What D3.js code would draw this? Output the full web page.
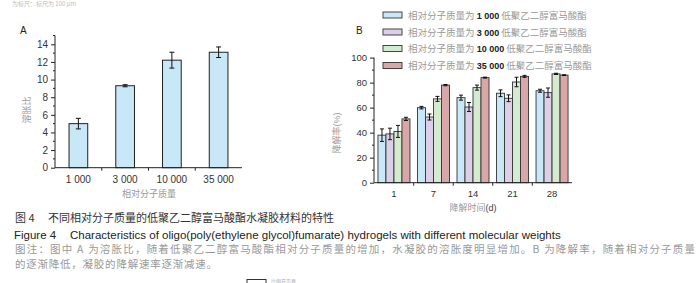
<!DOCTYPE html>
<html><head><meta charset="utf-8">
<script src="https://cdn.jsdelivr.net/npm/d3@7/dist/d3.min.js"></script>
<style>body{margin:0;background:#fff;}svg{display:block;}</style>
</head><body>
<script>
// Panel A data
const catsA = ["1 000", "3 000", "10 000", "35 000"];
const valsA = [5.0, 9.3, 12.2, 13.1];
const errA = [0.6, 0.12, 0.9, 0.6];
const ticksA = [0, 2, 4, 6, 8, 10, 12, 14];

// Panel B data
const days = ["1", "7", "14", "21", "28"];
const seriesB = ["1 000", "3 000", "10 000", "35 000"];
const valsB = [
  [38, 60, 68, 71.5, 73.5],   // 1 000
  [39, 52.5, 60.5, 67.5, 72], // 3 000
  [41, 67, 76, 80.5, 87],     // 10 000
  [51, 78, 84, 85, 86]        // 35 000
];
const errB = [
  [5, 1, 2, 2.7, 1.2],
  [4.6, 2.4, 3.6, 2.7, 3.7],
  [4.8, 2, 2, 3.8, 0.5],
  [1.3, 0.5, 0.4, 0.8, 0.3]
];
const ticksB = [0, 20, 40, 60, 80, 100];
const colorsB = ["#c8e7f7", "#dcd0e8", "#d4ebd0", "#d9a7a7"];

const svg = d3.select("body").append("svg").attr("width", 700).attr("height", 283)
  .style("font-family", "'Liberation Sans', Arial, sans-serif");

const cjk = "'Noto Sans CJK SC', sans-serif";

// top line (mostly off the page in the reference)
svg.append("text").attr("x", 12).attr("y", 6).attr("font-size", 6).attr("fill", "#bbb")
  .style("font-family", cjk).text("为标尺：标尺为 100 μm");

// ---------- Panel A ----------
const xA = d3.scaleBand().domain(catsA).range([55, 242]).paddingInner(0.6).paddingOuter(0.3);
const yA = d3.scaleLinear().domain([0, 15]).range([167.7, 35.5]);
const gA = svg.append("g");
gA.append("text").attr("x", 20).attr("y", 34).attr("font-size", 10).attr("fill", "#222").text("A");

gA.selectAll("rect.bar").data(valsA).join("rect")
  .attr("x", (d, i) => xA(catsA[i])).attr("y", d => yA(d))
  .attr("width", xA.bandwidth()).attr("height", d => yA(0) - yA(d))
  .attr("fill", "#c8e7f7").attr("stroke", "#222").attr("stroke-width", 1);

const ebA = gA.selectAll("g.eb").data(valsA).join("g");
ebA.each(function(d, i) {
  const cx = xA(catsA[i]) + xA.bandwidth() / 2;
  const g = d3.select(this);
  g.append("line").attr("x1", cx).attr("x2", cx).attr("y1", yA(d - errA[i])).attr("y2", yA(d + errA[i])).attr("stroke", "#111");
  [d - errA[i], d + errA[i]].forEach(v => g.append("line").attr("x1", cx - 2.5).attr("x2", cx + 2.5).attr("y1", yA(v)).attr("y2", yA(v)).attr("stroke", "#111"));
});

const axA = gA.append("g").attr("transform", "translate(55,0)")
  .call(d3.axisLeft(yA).tickValues(ticksA).tickSize(4).tickPadding(3).tickFormat(d3.format("d")));
axA.select(".domain").remove();
axA.selectAll("text").attr("font-size", 10).attr("fill", "#333").style("font-family", "'Liberation Sans', Arial, sans-serif");
axA.selectAll("line").attr("stroke", "#222");
gA.append("line").attr("x1", 55).attr("x2", 55).attr("y1", yA(0)).attr("y2", yA(15)).attr("stroke", "#222");
gA.selectAll("line.minA").data([1, 3, 5, 7, 9, 11, 13, 15]).join("line")
  .attr("x1", 53).attr("x2", 55).attr("y1", d => yA(d)).attr("y2", d => yA(d)).attr("stroke", "#222");
gA.append("line").attr("x1", 55).attr("x2", 242).attr("y1", yA(0)).attr("y2", yA(0)).attr("stroke", "#222");
gA.selectAll("line.bt").data(catsA.slice(1)).join("line")
  .attr("x1", d => xA(d) - xA.step() * 0.3).attr("x2", d => xA(d) - xA.step() * 0.3)
  .attr("y1", yA(0)).attr("y2", yA(0) + 3).attr("stroke", "#222");
gA.selectAll("text.xl").data(catsA).join("text")
  .attr("x", d => xA(d) + xA.bandwidth() / 2).attr("y", 183).attr("text-anchor", "middle")
  .attr("font-size", 10).attr("fill", "#333").text(d => d);
gA.append("text").attr("x", 149).attr("y", 197).attr("text-anchor", "middle").attr("font-size", 9)
  .attr("fill", "#999").style("font-family", cjk).text("相对分子质量");
gA.append("text").attr("transform", "translate(30,110) rotate(-90)").attr("text-anchor", "middle")
  .attr("font-size", 9).attr("fill", "#999").style("font-family", cjk).text("溶胀比");

// ---------- Panel B ----------
const x0 = d3.scaleBand().domain(days).range([374, 572]).paddingInner(0.19).paddingOuter(0.1);
const x1 = d3.scaleBand().domain(seriesB).range([0, x0.bandwidth()]);
const yB = d3.scaleLinear().domain([0, 100]).range([182.7, 57.6]);
const gB = svg.append("g");
gB.append("text").attr("x", 356).attr("y", 34).attr("font-size", 10).attr("fill", "#222").text("B");

seriesB.forEach((s, si) => {
  gB.selectAll("rect.s" + si).data(valsB[si]).join("rect")
    .attr("x", (d, i) => x0(days[i]) + x1(s)).attr("y", d => yB(d))
    .attr("width", x1.bandwidth()).attr("height", d => yB(0) - yB(d))
    .attr("fill", colorsB[si]).attr("stroke", "#333").attr("stroke-width", 0.9);
});
seriesB.forEach((s, si) => {
  valsB[si].forEach((d, i) => {
    const cx = x0(days[i]) + x1(s) + x1.bandwidth() / 2;
    const e = errB[si][i];
    gB.append("line").attr("x1", cx).attr("x2", cx).attr("y1", yB(d - e)).attr("y2", yB(d + e)).attr("stroke", "#111");
    [d - e, d + e].forEach(v => gB.append("line").attr("x1", cx - 2).attr("x2", cx + 2).attr("y1", yB(v)).attr("y2", yB(v)).attr("stroke", "#111"));
  });
});

const axB = gB.append("g").attr("transform", "translate(374,0)")
  .call(d3.axisLeft(yB).tickValues(ticksB).tickSize(4).tickPadding(3));
axB.select(".domain").remove();
axB.selectAll("text").attr("font-size", 9.5).attr("fill", "#333").style("font-family", "'Liberation Sans', Arial, sans-serif");
axB.selectAll("line").attr("stroke", "#222");
gB.append("line").attr("x1", 374).attr("x2", 374).attr("y1", yB(0)).attr("y2", yB(100)).attr("stroke", "#222");
gB.selectAll("line.minB").data([10, 30, 50, 70, 90]).join("line")
  .attr("x1", 372).attr("x2", 374).attr("y1", d => yB(d)).attr("y2", d => yB(d)).attr("stroke", "#222");
gB.append("line").attr("x1", 374).attr("x2", 572).attr("y1", yB(0)).attr("y2", yB(0)).attr("stroke", "#222");
gB.selectAll("line.bt").data(days.slice(1)).join("line")
  .attr("x1", d => x0(d) - x0.step() * 0.095).attr("x2", d => x0(d) - x0.step() * 0.095)
  .attr("y1", yB(0)).attr("y2", yB(0) + 3).attr("stroke", "#222");
gB.selectAll("text.xl").data(days).join("text")
  .attr("x", d => x0(d) + x0.bandwidth() / 2).attr("y", 197).attr("text-anchor", "middle")
  .attr("font-size", 9.5).attr("fill", "#333").text(d => d);
const xt = gB.append("text").attr("x", 473).attr("y", 211).attr("text-anchor", "middle").attr("font-size", 9).attr("fill", "#999");
xt.append("tspan").style("font-family", cjk).text("降解时间");
xt.append("tspan").attr("fill", "#444").text("(d)");
const yt = gB.append("text").attr("transform", "translate(340,133) rotate(-90)").attr("text-anchor", "middle").attr("font-size", 9).attr("fill", "#999");
yt.append("tspan").style("font-family", cjk).text("降解率");
yt.append("tspan").text("(%)");

// legend
const legY = [15, 32, 48.5, 65.5];
seriesB.forEach((s, si) => {
  gB.append("rect").attr("x", 383).attr("y", legY[si] - 3).attr("width", 19).attr("height", 6)
    .attr("fill", colorsB[si]).attr("stroke", "#333").attr("stroke-width", 0.9);
  const t = gB.append("text").attr("x", 408).attr("y", legY[si] + 3.5).attr("font-size", 9.5).attr("fill", "#999");
  t.append("tspan").style("font-family", cjk).text("相对分子质量为 ");
  t.append("tspan").attr("fill", "#222").attr("font-weight", "bold").attr("font-size", 9).text(s);
  t.append("tspan").style("font-family", cjk).text(" 低聚乙二醇富马酸酯");
});

// ---------- Caption ----------
const c1 = svg.append("text").attr("x", 15).attr("y", 222).attr("font-size", 11).attr("fill", "#333").style("font-family", cjk);
c1.append("tspan").text("图 4");
c1.append("tspan").attr("x", 48).text("不同相对分子质量的低聚乙二醇富马酸酯水凝胶材料的特性");
const c2 = svg.append("text").attr("x", 14).attr("y", 239).attr("font-size", 11.5).attr("fill", "#222");
c2.append("tspan").text("Figure 4");
c2.append("tspan").attr("x", 70).text("Characteristics of oligo(poly(ethylene glycol)fumarate) hydrogels with different molecular weights");
svg.append("text").attr("x", 15).attr("y", 253).attr("font-size", 10.5).attr("fill", "#999").style("font-family", cjk)
  .attr("textLength", 680).attr("lengthAdjust", "spacing")
  .text("图注：图中 A 为溶胀比，随着低聚乙二醇富马酸酯相对分子质量的增加，水凝胶的溶胀度明显增加。B 为降解率，随着相对分子质量");
svg.append("text").attr("x", 15).attr("y", 268).attr("font-size", 10.5).attr("fill", "#999").style("font-family", cjk)
  .attr("textLength", 202).attr("lengthAdjust", "spacing")
  .text("的逐渐降低，凝胶的降解速率逐渐减速。");
// bottom legend row (cut by the page edge in the reference)
svg.append("rect").attr("x", 247).attr("y", 279.5).attr("width", 19).attr("height", 8).attr("fill", "none").attr("stroke", "#333");
svg.append("text").attr("x", 271).attr("y", 282.5).attr("font-size", 5).attr("fill", "#aaa").style("font-family", cjk).text("比例尺示意");
</script>
</body></html>
